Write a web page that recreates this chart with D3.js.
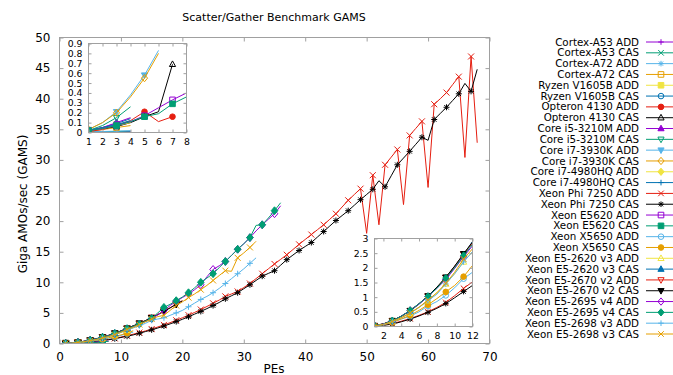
<!DOCTYPE html>
<html>
<head>
<meta charset="utf-8">
<script src="https://cdn.jsdelivr.net/npm/d3@7"></script>
<style>
body { margin: 0; background: #fff; }
text { font-family: "DejaVu Sans", sans-serif; fill: #000; }
</style>
</head>
<body>
<svg id="chart" width="673" height="375"></svg>
<script>
// legend labels, in plot order
const seriesNames = [
	'Cortex-A53 ADD', 'Cortex-A53 CAS', 'Cortex-A72 ADD', 'Cortex-A72 CAS',
	'Ryzen V1605B ADD', 'Ryzen V1605B CAS', 'Opteron 4130 ADD', 'Opteron 4130 CAS',
	'Core i5-3210M ADD', 'Core i5-3210M CAS', 'Core i7-3930K ADD', 'Core i7-3930K CAS',
	'Core i7-4980HQ ADD', 'Core i7-4980HQ CAS', 'Xeon Phi 7250 ADD', 'Xeon Phi 7250 CAS',
	'Xeon E5620 ADD', 'Xeon E5620 CAS', 'Xeon X5650 ADD', 'Xeon X5650 CAS',
	'Xeon E5-2620 v3 ADD', 'Xeon E5-2620 v3 CAS', 'Xeon E5-2670 v2 ADD', 'Xeon E5-2670 v2 CAS',
	'Xeon E5-2695 v4 ADD', 'Xeon E5-2695 v4 CAS', 'Xeon E5-2698 v3 ADD', 'Xeon E5-2698 v3 CAS'
];

// GAMS per PE count, starting at 1 PE
const a53Add = [0.004, 0.006, 0.008, 0.01];
const a53Cas = [0.005, 0.008, 0.011, 0.014];
const a72Add = [0.006, 0.01, 0.014, 0.018];
const a72Cas = [0.01, 0.03, 0.05, 0.07];
const ryzenAdd = [0.02, 0.05, 0.08, 0.11];
const ryzenCas = [0.02, 0.05, 0.09, 0.14];
const opteronAdd = [0.01, 0.03, 0.07, 0.12, 0.21, 0.11, 0.16];
const opteronCas = [0.02, 0.04, 0.06, 0.1, 0.16, 0.21, 0.69];
const i5Add = [0.02, 0.05, 0.1, 0.15];
const i5Cas = [0.02, 0.07, 0.15, 0.26];
const i7kAdd = [0.03, 0.1, 0.21, 0.38, 0.58, 0.83];
const i7kCas = [0.03, 0.1, 0.2, 0.36, 0.55, 0.8];
const i7hqAdd = [0.02, 0.04, 0.07, 0.1];
const i7hqCas = [0.02, 0.05, 0.08, 0.12];
const phiAdd = [0.01, 0.05, 0.1, 0.18, 0.27, 0.38, 0.5, 0.65, 0.82, 1.05,
	1.3, 1.52, 1.78, 2.06, 2.36, 2.7, 3.04, 3.4, 3.8, 4.2,
	4.63, 5.08, 5.55, 6.05, 6.57, 7.1, 7.7, 8.1, 8.5, 9.15,
	9.8, 10.6, 11.4, 12.2, 13.0, 13.75, 14.5, 15.35, 16.2, 17.0,
	17.8, 18.6, 19.4, 20.3, 21.2, 22.3, 23.4, 24.35, 25.3, 18.0,
	27.5, 19.4, 29.2, 30.45, 31.7, 22.7, 34.0, 35.15, 36.3, 25.5,
	39.1, 40.0, 41.0, 42.3, 43.6, 30.4, 46.9, 32.8];
const phiCas = [0.01, 0.04, 0.08, 0.16, 0.25, 0.36, 0.48, 0.62, 0.78, 0.98,
	1.19, 1.4, 1.67, 1.95, 2.23, 2.53, 2.86, 3.2, 3.58, 3.95,
	4.37, 4.8, 5.24, 5.7, 6.2, 6.7, 7.3, 7.8, 8.3, 8.95,
	9.6, 10.3, 11.0, 11.45, 11.9, 12.8, 13.7, 14.45, 15.2, 15.85,
	16.5, 17.4, 18.3, 19.2, 20.1, 20.9, 21.7, 22.6, 23.5, 24.35,
	25.2, 26.6, 25.6, 27.4, 29.2, 30.3, 31.4, 32.55, 33.7, 33.2,
	36.6, 37.6, 38.6, 39.7, 40.8, 42.5, 41.2, 44.8];
const e5620Add = [0.02, 0.04, 0.07, 0.11, 0.17, 0.25, 0.33, 0.4];
const e5620Cas = [0.02, 0.04, 0.07, 0.11, 0.16, 0.19, 0.29, 0.36];
const x5650Add = [0.02, 0.06, 0.14, 0.25, 0.35, 0.5, 0.7, 0.85, 1.06, 1.32, 1.63, 1.85];
const x5650Cas = [0.02, 0.06, 0.14, 0.26, 0.38, 0.55, 0.74, 0.95, 1.18, 1.4, 1.7, 2.08];
const e2620Add = [0.03, 0.08, 0.18, 0.3, 0.45, 0.65, 0.88, 1.15, 1.45, 1.8, 2.2, 2.55];
const e2620Cas = [0.03, 0.09, 0.2, 0.35, 0.53, 0.76, 1.02, 1.32, 1.66, 2.05, 2.45, 2.9];
const e2670Add = [0.03, 0.09, 0.2, 0.35, 0.54, 0.77, 1.04, 1.33, 1.67, 2.05,
	2.47, 2.85, 3.3, 3.75, 4.25, 4.75, 5.3, 5.85, 6.45, 7.0];
const e2670Cas = [0.03, 0.09, 0.2, 0.35, 0.54, 0.78, 1.04, 1.34, 1.68, 2.06,
	2.48, 2.88, 3.3, 3.75, 4.2, 4.7, 5.25, 5.8, 6.4, 6.95];
const e2695Add = [0.03, 0.08, 0.19, 0.35, 0.55, 0.77, 1.02, 1.3, 1.6, 1.98,
	2.38, 2.75, 3.2, 3.6, 4.05, 4.7, 5.4, 6.2, 6.9, 7.5,
	8.1, 8.8, 9.6, 10.9, 12.1, 12.7, 13.4, 14.4, 15.4, 16.3,
	17.3, 18.4, 19.4, 20.3, 21.2, 22.5];
const e2695Cas = [0.03, 0.08, 0.2, 0.35, 0.55, 0.78, 1.03, 1.3, 1.65, 2.0,
	2.42, 2.8, 3.2, 3.65, 4.1, 5.0, 5.9, 6.4, 7.0, 7.6,
	8.3, 9.1, 10.0, 10.7, 11.4, 12.4, 13.4, 14.4, 15.4, 16.3,
	17.3, 19.3, 19.4, 20.5, 21.7, 23.0];
const e2698Add = [0.02, 0.07, 0.17, 0.3, 0.45, 0.65, 0.88, 1.1, 1.45, 1.8,
	2.2, 2.55, 2.9, 3.3, 3.8, 4.0, 4.2, 4.6, 5.0, 5.4,
	6.0, 6.6, 7.2, 7.7, 8.3, 9.0, 9.8, 10.6, 11.4, 12.2,
	13.1, 14.0];
const e2698Cas = [0.02, 0.07, 0.17, 0.3, 0.46, 0.66, 0.9, 1.15, 1.47, 1.85,
	2.3, 2.65, 3.1, 3.55, 4.0, 4.4, 4.6, 5.4, 6.2, 6.8,
	7.5, 8.1, 8.8, 9.5, 10.3, 11.1, 11.9, 11.8, 14.0, 14.8,
	15.7, 16.7];

const seriesValues = [a53Add, a53Cas, a72Add, a72Cas, ryzenAdd, ryzenCas, opteronAdd, opteronCas,
	i5Add, i5Cas, i7kAdd, i7kCas, i7hqAdd, i7hqCas, phiAdd, phiCas,
	e5620Add, e5620Cas, x5650Add, x5650Cas, e2620Add, e2620Cas, e2670Add, e2670Cas,
	e2695Add, e2695Cas, e2698Add, e2698Cas];

// which series each inset zooms on
const smallSeries = [0, 1, 2, 3, 4, 5, 6, 7, 8, 9, 10, 11, 12, 13, 16, 17];
const xeonSeries = [14, 15, 18, 19, 20, 21, 22, 23, 24, 25, 26, 27];

const mainXTicks = [0, 10, 20, 30, 40, 50, 60, 70];
const mainYTicks = [0, 5, 10, 15, 20, 25, 30, 35, 40, 45, 50];
const inset1XTicks = [1, 2, 3, 4, 5, 6, 7, 8];
const inset1YTicks = [0, 0.1, 0.2, 0.3, 0.4, 0.5, 0.6, 0.7, 0.8, 0.9];
const inset2XTicks = [2, 4, 6, 8, 10, 12];
const inset2YTicks = [0, 0.5, 1, 1.5, 2, 2.5, 3];

const colors = ['#9400d3', '#009e73', '#56b4e9', '#e69f00', '#f0e442', '#0072b2', '#e51e10', '#000000'];
const borderColor = '#a0a0a0';

const svg = d3.select('#chart');

// gnuplot point types 1..13
function pointShape(type, r) {
	const t = ((type - 1) % 13) + 1;
	switch (t) {
		case 1: return {d: `M${-r},0H${r}M0,${-r}V${r}`, fill: false};
		case 2: return {d: `M${-r},${-r}L${r},${r}M${-r},${r}L${r},${-r}`, fill: false};
		case 3: return {d: `M${-r},0H${r}M0,${-r}V${r}M${-r * .75},${-r * .75}L${r * .75},${r * .75}M${-r * .75},${r * .75}L${r * .75},${-r * .75}`, fill: false};
		case 4: case 5: return {d: `M${-r},${-r}H${r}V${r}H${-r}Z`, fill: t == 5};
		case 6: case 7: return {d: d3.symbol(d3.symbolCircle, Math.PI * r * r)(), fill: t == 7};
		case 8: case 9: return {d: `M0,${-r * 1.2}L${r * 1.1},${r * .8}L${-r * 1.1},${r * .8}Z`, fill: t == 9};
		case 10: case 11: return {d: `M0,${r * 1.2}L${r * 1.1},${-r * .8}L${-r * 1.1},${-r * .8}Z`, fill: t == 11};
		default: return {d: `M0,${-r * 1.3}L${r * 1.1},0L0,${r * 1.3}L${-r * 1.1},0Z`, fill: t == 13};
	}
}

function drawPanel(opts) {
	const x = d3.scaleLinear().domain(opts.xDomain).range([opts.left, opts.right]);
	const y = d3.scaleLinear().domain(opts.yDomain).range([opts.bottom, opts.top]);
	const g = svg.append('g');

	if (opts.background) {
		g.append('rect')
			.attr('x', opts.left).attr('y', opts.top)
			.attr('width', opts.right - opts.left).attr('height', opts.bottom - opts.top)
			.attr('fill', '#fff');
	}

	const clipId = 'clip-' + opts.name;
	svg.append('clipPath').attr('id', clipId)
		.append('rect')
		.attr('x', opts.left).attr('y', opts.top)
		.attr('width', opts.right - opts.left).attr('height', opts.bottom - opts.top);

	const plot = g.append('g').attr('clip-path', `url(#${clipId})`);
	const line = d3.line().x(d => x(d[0])).y(d => y(d[1]));

	for (let i of opts.series) {
		const pts = seriesValues[i].map((v, k) => [k + 1, v]);
		const color = colors[i % 8];
		plot.append('path')
			.attr('d', line(pts))
			.attr('fill', 'none')
			.attr('stroke', color)
			.attr('stroke-width', 1);
		const shape = pointShape(i + 1, opts.pointSize);
		plot.selectAll(null)
			.data(pts.filter(d => d[0] % 2 == 1))
			.enter()
			.append('path')
			.attr('transform', d => `translate(${x(d[0])},${y(d[1])})`)
			.attr('d', shape.d)
			.attr('fill', shape.fill ? color : 'none')
			.attr('stroke', color)
			.attr('stroke-width', 1);
	}

	// axes: ticks inside, mirrored
	const tl = opts.tickLen;
	const fmt = d => String(d);
	g.append('g')
		.attr('transform', `translate(0,${opts.bottom})`)
		.call(d3.axisBottom(x).tickValues(opts.xTicks).tickFormat(fmt).tickSizeInner(-tl).tickSizeOuter(0).tickPadding(opts.pad + tl))
		.call(a => a.select('.domain').remove());
	g.append('g')
		.attr('transform', `translate(0,${opts.top})`)
		.call(d3.axisTop(x).tickValues(opts.xTicks).tickSizeInner(-tl).tickSizeOuter(0).tickFormat(''))
		.call(a => a.select('.domain').remove());
	g.append('g')
		.attr('transform', `translate(${opts.left},0)`)
		.call(d3.axisLeft(y).tickValues(opts.yTicks).tickFormat(fmt).tickSizeInner(-tl).tickSizeOuter(0).tickPadding(opts.pad + tl))
		.call(a => a.select('.domain').remove());
	g.append('g')
		.attr('transform', `translate(${opts.right},0)`)
		.call(d3.axisRight(y).tickValues(opts.yTicks).tickSizeInner(-tl).tickSizeOuter(0).tickFormat(''))
		.call(a => a.select('.domain').remove());

	g.selectAll('.tick line').attr('stroke', borderColor);
	g.selectAll('.tick text').attr('font-size', opts.fontSize).attr('fill', '#000')
		.style('font-family', '"DejaVu Sans", sans-serif');

	g.append('rect')
		.attr('x', opts.left).attr('y', opts.top)
		.attr('width', opts.right - opts.left).attr('height', opts.bottom - opts.top)
		.attr('fill', 'none')
		.attr('stroke', borderColor);
}

drawPanel({
	name: 'main', xDomain: [0, 70], yDomain: [0, 50],
	left: 59.5, right: 489.5, top: 37.5, bottom: 343.5,
	xTicks: mainXTicks, yTicks: mainYTicks,
	series: d3.range(seriesNames.length), tickLen: 4, pad: 5, fontSize: 12,
	pointSize: 3, background: false
});

drawPanel({
	name: 'small', xDomain: [1, 8], yDomain: [0, 0.9],
	left: 88.5, right: 186.5, top: 43.5, bottom: 132.5,
	xTicks: inset1XTicks, yTicks: inset1YTicks,
	series: smallSeries, tickLen: 3, pad: 3, fontSize: 9.3,
	pointSize: 2.8, background: true
});

drawPanel({
	name: 'xeon', xDomain: [1, 12], yDomain: [0, 3],
	left: 374.5, right: 472.5, top: 238.5, bottom: 326.5,
	xTicks: inset2XTicks, yTicks: inset2YTicks,
	series: xeonSeries, tickLen: 3, pad: 3, fontSize: 9.3,
	pointSize: 2.8, background: true
});

// titles
svg.append('text')
	.attr('x', 274).attr('y', 21)
	.attr('text-anchor', 'middle')
	.attr('font-size', 11)
	.text('Scatter/Gather Benchmark GAMS');
svg.append('text')
	.attr('x', 274).attr('y', 373)
	.attr('text-anchor', 'middle')
	.attr('font-size', 12)
	.text('PEs');
svg.append('text')
	.attr('transform', 'translate(27,204) rotate(-90)')
	.attr('text-anchor', 'middle')
	.attr('font-size', 12)
	.text('Giga AMOs/sec (GAMS)');

// legend
const legendY = d3.scaleLinear().domain([0, 27]).range([42, 334]);
const legend = svg.append('g')
	.selectAll('g')
	.data(seriesNames)
	.enter()
	.append('g')
	.attr('transform', (d, i) => `translate(0,${legendY(i)})`);

legend.append('text')
	.attr('x', 639)
	.attr('y', 0)
	.attr('dy', '0.35em')
	.attr('text-anchor', 'end')
	.attr('font-size', 10.3)
	.text(d => d);

legend.append('line')
	.attr('x1', 646).attr('x2', 680)
	.attr('stroke', (d, i) => colors[i % 8])
	.attr('stroke-width', 1);

legend.append('path')
	.attr('transform', 'translate(661,0)')
	.attr('d', (d, i) => pointShape(i + 1, 2.8).d)
	.attr('fill', (d, i) => pointShape(i + 1, 2.8).fill ? colors[i % 8] : 'none')
	.attr('stroke', (d, i) => colors[i % 8]);
</script>
</body>
</html>
